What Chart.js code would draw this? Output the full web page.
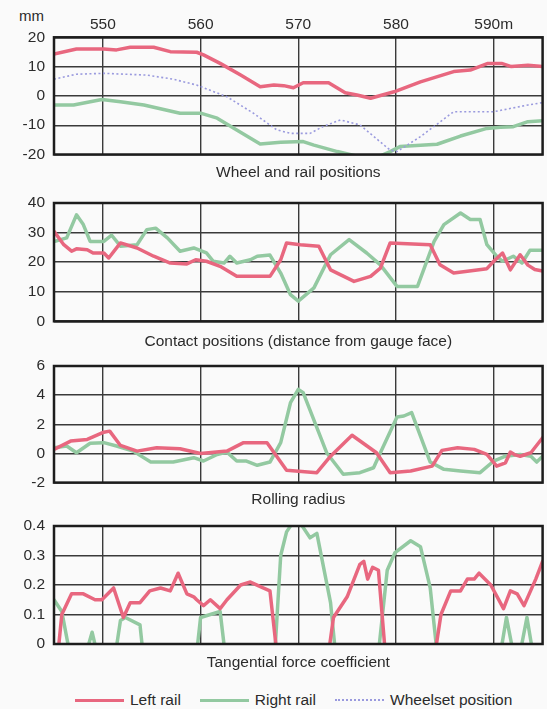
<!DOCTYPE html>
<html>
<head>
<meta charset="utf-8">
<script src="https://cdn.jsdelivr.net/npm/chart.js@4/dist/chart.umd.min.js"></script>
<style>
  body { margin: 0; background: #fafafa; font-family: "Liberation Sans", Arial, Helvetica, sans-serif; color: #2b2b2b; }
  #wrap { position: relative; width: 547px; height: 709px; overflow: hidden; }
  canvas { position: absolute; left: 0; }
  #unit { position: absolute; left: 19px; top: 7px; font-size: 15px; }
  #legend { position: absolute; left: 75px; top: 691px; display: flex; align-items: center; font-size: 15.5px; white-space: nowrap; }
  .key { display: inline-block; width: 49px; margin-right: 6px; }
  .lbl { margin-right: 19px; }
</style>
</head>
<body>
<div id="wrap">
  <div id="unit">mm</div>
  <canvas id="positionChart"></canvas>
  <canvas id="contactChart"></canvas>
  <canvas id="radiusChart"></canvas>
  <canvas id="forceChart"></canvas>
  <div id="legend">
    <span class="key" style="border-top:3px solid #e8677f"></span><span class="lbl">Left rail</span>
    <span class="key" style="border-top:3px solid #93c9a1"></span><span class="lbl">Right rail</span>
    <span class="key" style="border-top:2px dotted #9a9ade"></span><span>Wheelset position</span>
  </div>
</div>
<script>
// distance along track (m)
const xTicks = [550, 560, 570, 580, 590];

// wheel and rail positions (mm)
const posLeft = [[545.0,14.3],[547.3,16.0],[550.1,16.0],[551.4,15.7],[552.8,16.6],[555.2,16.6],[556.9,15.1],[559.6,14.9],[560.3,14.0],[562.0,11.1],[564.1,7.1],[566.1,3.1],[567.5,3.7],[568.5,3.5],[569.5,2.8],[570.5,4.5],[573.1,4.5],[574.8,1.1],[576.0,0.3],[577.4,-0.8],[579.8,1.4],[582.5,4.8],[585.9,8.3],[587.6,8.8],[589.4,11.1],[590.8,11.1],[591.8,10.0],[593.5,10.5],[595.0,10.0]];
const posRight = [[545.0,-3.1],[547.0,-3.1],[549.9,-1.2],[551.8,-2.0],[554.2,-3.1],[557.9,-5.9],[560.0,-5.9],[561.7,-7.6],[563.7,-11.6],[566.1,-16.4],[568.2,-15.8],[570.5,-15.6],[571.6,-16.8],[574.0,-19.0],[576.0,-20.6],[578.3,-20.6],[579.4,-19.0],[580.4,-17.3],[584.2,-16.5],[586.6,-13.7],[589.3,-11.1],[590.7,-10.7],[592.0,-10.5],[593.5,-8.8],[595.0,-8.5]];
const posWheelset = [[545.0,5.7],[547.3,7.4],[550.1,7.7],[554.5,7.1],[557.2,5.7],[559.6,3.7],[562.7,-0.3],[565.4,-5.9],[567.8,-11.6],[569.2,-12.8],[571.2,-12.8],[572.5,-10.5],[574.3,-8.2],[576.3,-9.9],[579.4,-18.5],[580.1,-19.0],[582.5,-13.9],[585.9,-5.4],[590.0,-5.4],[593.5,-3.1],[595.0,-2.3]];

// contact positions
const contactLeft = [[545.0,30.4],[546.0,25.9],[546.8,23.7],[547.3,24.5],[548.4,24.2],[549.0,23.1],[550.1,23.1],[550.6,21.4],[551.8,26.5],[553.5,24.8],[555.2,22.0],[556.9,19.7],[558.6,19.4],[559.5,20.8],[560.6,20.3],[562.0,18.6],[563.7,15.2],[567.1,15.2],[568.2,20.8],[568.8,26.5],[570.2,25.9],[572.1,25.4],[573.3,17.4],[575.7,13.5],[577.4,15.2],[578.4,18.0],[579.4,26.5],[583.5,25.9],[584.5,19.1],[585.9,16.3],[589.3,17.8],[590.0,20.3],[590.9,23.1],[591.7,17.4],[592.7,22.5],[593.5,19.0],[594.2,17.5],[595.0,17.0]];
const contactRight = [[545.0,27.0],[546.3,28.2],[547.3,36.0],[548.0,32.7],[548.7,27.0],[550.1,27.0],[550.9,29.1],[551.8,25.4],[553.5,25.9],[554.5,31.0],[555.4,31.5],[556.6,28.2],[557.9,23.7],[559.3,24.8],[560.6,23.1],[561.3,20.3],[562.4,19.7],[563.0,22.0],[563.7,19.7],[565.1,20.8],[565.8,22.0],[567.1,22.4],[568.2,16.3],[569.2,9.0],[570.0,6.8],[571.6,11.3],[573.3,22.5],[575.2,27.6],[577.0,23.1],[578.4,19.1],[580.1,11.8],[582.2,11.8],[583.9,27.0],[584.9,32.7],[586.6,36.6],[587.6,34.4],[588.6,34.4],[589.3,25.9],[590.3,22.0],[590.9,20.3],[592.0,22.0],[592.9,19.7],[593.7,24.0],[595.0,24.0]];

// rolling radius
const radiusLeft = [[545.0,0.28],[546.7,0.85],[548.4,0.96],[550.1,1.46],[550.7,1.53],[551.8,0.55],[553.5,0.16],[555.5,0.39],[557.9,0.32],[560.0,0.0],[562.7,0.16],[564.4,0.74],[566.8,0.74],[568.8,-1.15],[571.9,-1.32],[573.3,-0.19],[575.5,1.25],[578.0,0.05],[579.4,-1.32],[581.5,-1.2],[583.7,-0.87],[584.7,0.21],[586.3,0.39],[588.0,0.28],[589.3,-0.07],[590.3,-0.87],[591.2,-0.64],[591.7,0.1],[592.2,-0.1],[592.7,-0.19],[593.8,0.05],[595.0,1.08]];
const radiusRight = [[545.0,0.39],[546.3,0.51],[547.3,0.05],[548.7,0.70],[550.1,0.74],[551.4,0.51],[553.1,0.16],[554.9,-0.59],[557.2,-0.59],[559.3,-0.29],[560.3,-0.52],[561.7,-0.07],[562.7,0.09],[563.7,-0.52],[564.7,-0.52],[565.8,-0.81],[567.1,-0.59],[568.2,0.74],[569.2,3.48],[570.0,4.40],[570.5,4.17],[572.9,0.05],[574.6,-1.43],[576.3,-1.32],[577.7,-0.98],[578.4,0.05],[580.1,2.5],[580.8,2.57],[581.6,2.8],[583.5,-0.59],[584.9,-1.09],[586.6,-1.2],[588.6,-1.32],[590.0,-0.52],[591.2,-0.19],[592.7,-0.07],[593.8,-0.19],[594.4,-0.59],[595.0,-0.19]];

// tangential force coefficient (below 0 = no contact, hidden under the axis)
const forceLeft = [[545.0,-0.03],[545.5,0.0],[545.8,0.10],[546.8,0.17],[548.0,0.17],[549.2,0.15],[549.9,0.15],[551.1,0.19],[552.1,0.09],[552.8,0.14],[553.8,0.14],[554.8,0.18],[555.9,0.19],[556.9,0.18],[557.7,0.24],[558.6,0.17],[559.3,0.16],[559.6,0.15],[560.3,0.13],[561.0,0.15],[562.0,0.12],[562.7,0.15],[564.1,0.20],[565.1,0.21],[566.4,0.19],[567.1,0.18],[567.8,-0.03],[573.1,-0.03],[573.6,0.09],[575.0,0.16],[576.3,0.27],[576.7,0.28],[577.1,0.22],[577.6,0.26],[578.2,0.25],[578.9,-0.03],[584.0,-0.03],[584.6,0.10],[585.6,0.18],[586.6,0.18],[587.3,0.22],[588.0,0.22],[588.5,0.24],[589.7,0.20],[591.0,0.12],[591.7,0.18],[592.4,0.17],[593.1,0.13],[594.3,0.22],[595.0,0.28]];
const forceRight = [[545.0,0.15],[545.8,0.11],[546.6,-0.03],[548.3,-0.03],[548.9,0.04],[549.4,-0.03],[551.3,-0.03],[551.8,0.08],[552.3,0.09],[553.8,0.065],[554.1,-0.03],[559.6,-0.03],[560.0,0.09],[561.0,0.10],[562.0,0.11],[562.5,-0.03],[567.6,-0.03],[568.2,0.30],[568.8,0.38],[569.4,0.41],[570.2,0.41],[571.2,0.36],[571.9,0.375],[573.3,0.14],[573.8,-0.03],[578.2,-0.03],[579.1,0.25],[579.9,0.31],[581.5,0.35],[582.5,0.33],[583.5,0.19],[584.2,-0.03],[590.7,-0.03],[591.3,0.09],[592.0,-0.03],[592.7,-0.03],[593.4,0.09],[594.0,-0.03],[595.0,-0.03]];

const RED = '#e8677f';
const GREEN = '#93c9a1';
const BLUE = '#9a9ade';
const TEXT = '#2b2b2b';
const FONT = { family: '"Liberation Sans", Arial, Helvetica, sans-serif', size: 15.5 };
const TITLE_LINE = FONT.size * 1.2;

// thick box round the plot area
const framePlugin = {
  id: 'frame',
  afterDatasetsDraw(chart) {
    const { ctx, chartArea: a } = chart;
    ctx.save();
    ctx.strokeStyle = '#1c1c1c';
    ctx.lineWidth = 2.5;
    ctx.strokeRect(a.left, a.top, a.right - a.left, a.bottom - a.top);
    ctx.restore();
  }
};

function lineSet(label, pairs, color, dotted) {
  return {
    label,
    data: pairs.map(([x, y]) => ({ x, y })),
    borderColor: color,
    borderWidth: dotted ? 1.6 : 3.5,
    borderDash: dotted ? [2, 2.5] : [],
    borderJoinStyle: 'round',
    borderCapStyle: dotted ? 'butt' : 'round',
    pointRadius: 0,
    tension: 0,
    clip: 0,
  };
}

function createPanel(canvasId, panel) {
  const el = document.getElementById(canvasId);
  const showX = !!panel.showX;
  // room for the half-height of the top y label plus its padding
  const padTop = showX ? 0 : 22;
  const canvasTop = showX ? 0 : panel.areaTop - padTop;
  const titleGap = panel.titleY - panel.areaBottom - TITLE_LINE / 2;
  const contentBottom = panel.areaBottom + titleGap + TITLE_LINE;
  const height = Math.ceil(contentBottom - canvasTop);
  el.width = 547;
  el.height = height;
  el.style.top = canvasTop + 'px';

  const grid = { color: '#3a3a3a', lineWidth: 1.4, drawTicks: false };

  return new Chart(el.getContext('2d'), {
    type: 'line',
    data: { datasets: panel.datasets },
    plugins: [framePlugin],
    options: {
      responsive: false,
      animation: false,
      devicePixelRatio: 1,
      layout: {
        padding: { left: 0, right: 4.4, top: padTop, bottom: height - (contentBottom - canvasTop) }
      },
      plugins: {
        legend: { display: false },
        tooltip: { enabled: false },
        title: {
          display: true,
          text: panel.title,
          position: 'bottom',
          fullSize: false,
          color: TEXT,
          font: { ...FONT, weight: 'normal' },
          padding: { top: titleGap, bottom: 0 },
        },
      },
      scales: {
        x: {
          type: 'linear',
          position: 'top',
          min: 545,
          max: 595,
          grid,
          border: { display: false },
          afterBuildTicks: s => { s.ticks = xTicks.map(v => ({ value: v })); },
          afterFit: s => { s.height = showX ? panel.areaTop : 0; },
          ticks: {
            display: showX,
            color: TEXT,
            font: FONT,
            padding: 3,
            maxRotation: 0,
            callback: v => (v === 590 ? '590m' : v),
          },
        },
        y: {
          min: panel.yMin,
          max: panel.yMax,
          grid,
          border: { display: false },
          afterFit: s => { s.width = 54; },
          ticks: { stepSize: panel.yStep, color: TEXT, font: FONT, padding: 9 },
        },
      },
    },
  });
}

createPanel('positionChart', {
  showX: true, areaTop: 37.3, areaBottom: 154.5, titleY: 172.5,
  yMin: -20, yMax: 20, yStep: 10, title: 'Wheel and rail positions',
  datasets: [
    lineSet('Wheelset position', posWheelset, BLUE, true),
    lineSet('Right rail', posRight, GREEN),
    lineSet('Left rail', posLeft, RED),
  ],
});

createPanel('contactChart', {
  areaTop: 203, areaBottom: 321.3, titleY: 342,
  yMin: 0, yMax: 40, yStep: 10, title: 'Contact positions (distance from gauge face)',
  datasets: [lineSet('Left rail', contactLeft, RED), lineSet('Right rail', contactRight, GREEN)],
});

createPanel('radiusChart', {
  areaTop: 366, areaBottom: 482.6, titleY: 500,
  yMin: -2, yMax: 6, yStep: 2, title: 'Rolling radius',
  datasets: [lineSet('Left rail', radiusLeft, RED), lineSet('Right rail', radiusRight, GREEN)],
});

createPanel('forceChart', {
  areaTop: 526, areaBottom: 644, titleY: 662.5,
  yMin: 0, yMax: 0.4, yStep: 0.1, title: 'Tangential force coefficient',
  datasets: [lineSet('Left rail', forceLeft, RED), lineSet('Right rail', forceRight, GREEN)],
});
</script>
</body>
</html>
